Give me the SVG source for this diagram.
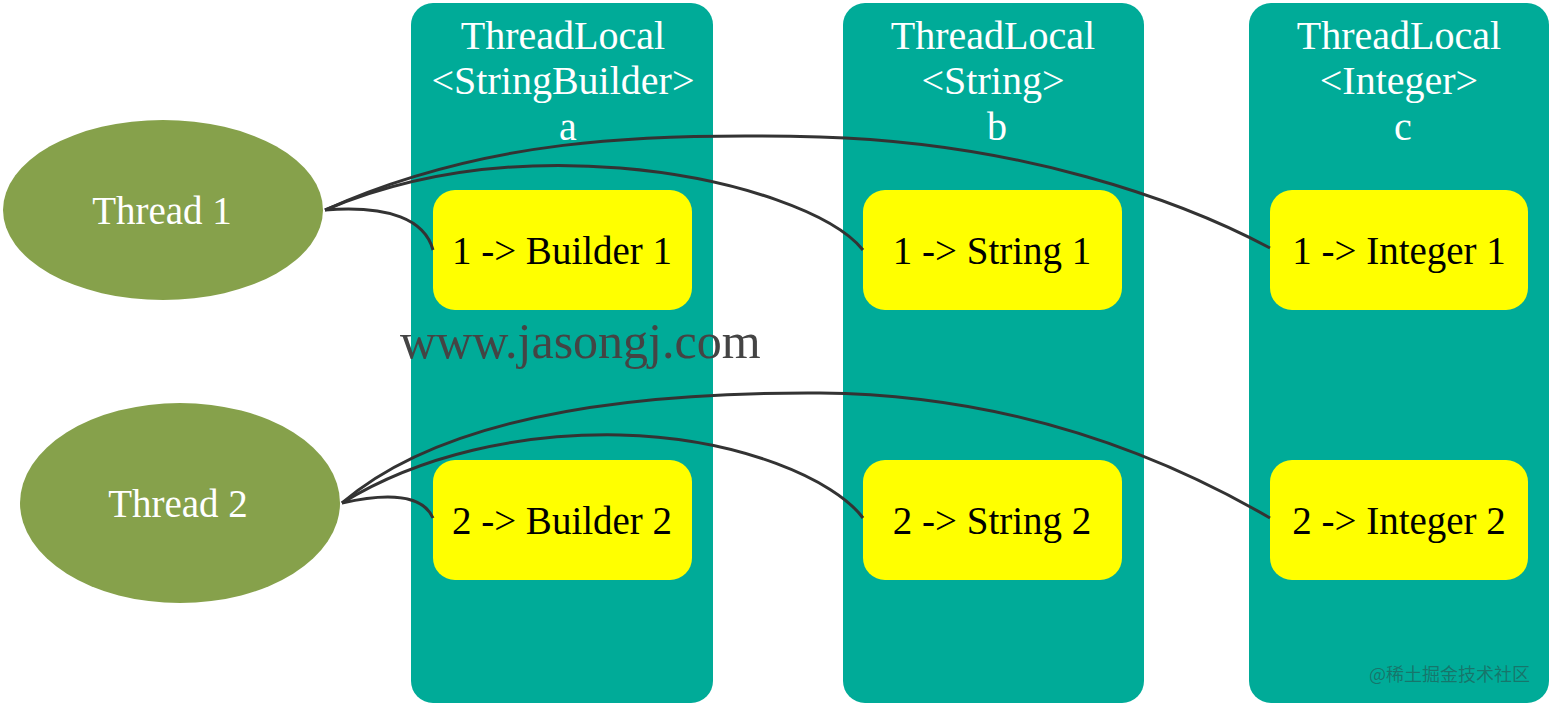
<svg xmlns="http://www.w3.org/2000/svg" width="1552" height="706" viewBox="0 0 1552 706">
<style>
.col{fill:#00AB98}
.box{fill:#FFFF00}
.th{fill:#86A14B}
.title{font-family:"Liberation Serif",serif;font-size:40px;fill:#fff;text-anchor:middle}
.bt{font-family:"Liberation Serif",serif;font-size:39px;fill:#000;text-anchor:middle}
.tt{font-family:"Liberation Serif",serif;font-size:39px;fill:#fff;text-anchor:middle}
.conn path{fill:none;stroke:#333;stroke-width:3}
</style>
<rect width="1552" height="706" fill="#fff"/>
<g id="col-a"><rect class="col" x="411" y="3" width="302" height="700" rx="22"/>
<text class="title" x="563" y="49">ThreadLocal</text>
<text class="title" x="563" y="94">&lt;StringBuilder&gt;</text>
<text class="title" x="568" y="140">a</text></g>
<g id="col-b"><rect class="col" x="843" y="3" width="301" height="700" rx="22"/>
<text class="title" x="993" y="49">ThreadLocal</text>
<text class="title" x="993" y="94">&lt;String&gt;</text>
<text class="title" x="997" y="140">b</text></g>
<g id="col-c"><rect class="col" x="1249" y="3" width="300" height="700" rx="22"/>
<text class="title" x="1399" y="49">ThreadLocal</text>
<text class="title" x="1399" y="94">&lt;Integer&gt;</text>
<text class="title" x="1403" y="140">c</text></g>
<g id="a1"><rect class="box" x="433" y="190" width="259" height="120" rx="22"/><text class="bt" x="562" y="264">1 -&gt; Builder 1</text></g>
<g id="b1"><rect class="box" x="863" y="190" width="259" height="120" rx="22"/><text class="bt" x="992" y="264">1 -&gt; String 1</text></g>
<g id="c1"><rect class="box" x="1270" y="190" width="258" height="120" rx="22"/><text class="bt" x="1399" y="264">1 -&gt; Integer 1</text></g>
<g id="a2"><rect class="box" x="433" y="460" width="259" height="120" rx="22"/><text class="bt" x="562" y="534">2 -&gt; Builder 2</text></g>
<g id="b2"><rect class="box" x="863" y="460" width="259" height="120" rx="22"/><text class="bt" x="992" y="534">2 -&gt; String 2</text></g>
<g id="c2"><rect class="box" x="1270" y="460" width="258" height="120" rx="22"/><text class="bt" x="1399" y="534">2 -&gt; Integer 2</text></g>
<g id="thread1"><ellipse class="th" cx="163" cy="210" rx="160" ry="90"/><text class="tt" x="162" y="224">Thread 1</text></g>
<g id="thread2"><ellipse class="th" cx="180" cy="503" rx="160" ry="100"/><text class="tt" x="178" y="517">Thread 2</text></g>
<g id="connectors" class="conn">
<path d="M325,210 C390,205 425,220 433,250"/>
<path d="M325,210 C420,170 520,160 620,168 C740,178 835,215 863,250"/>
<path d="M325,210 C480,140 640,132 820,137 C1020,143 1180,200 1270,248"/>
<path d="M342,503 C400,490 425,500 433,518"/>
<path d="M342,503 C420,455 520,433 620,435 C740,438 835,480 863,518"/>
<path d="M342,503 C450,410 650,392 820,393 C1020,395 1170,460 1270,518"/>
</g>
<text x="400" y="358" font-family="Liberation Serif,serif" font-size="50" fill="#444">www.jasongj.com</text>
<text x="1530" y="681" font-family="Noto Sans CJK SC,sans-serif" font-size="18" fill="#333" fill-opacity="0.45" text-anchor="end">@稀土掘金技术社区</text>
</svg>
